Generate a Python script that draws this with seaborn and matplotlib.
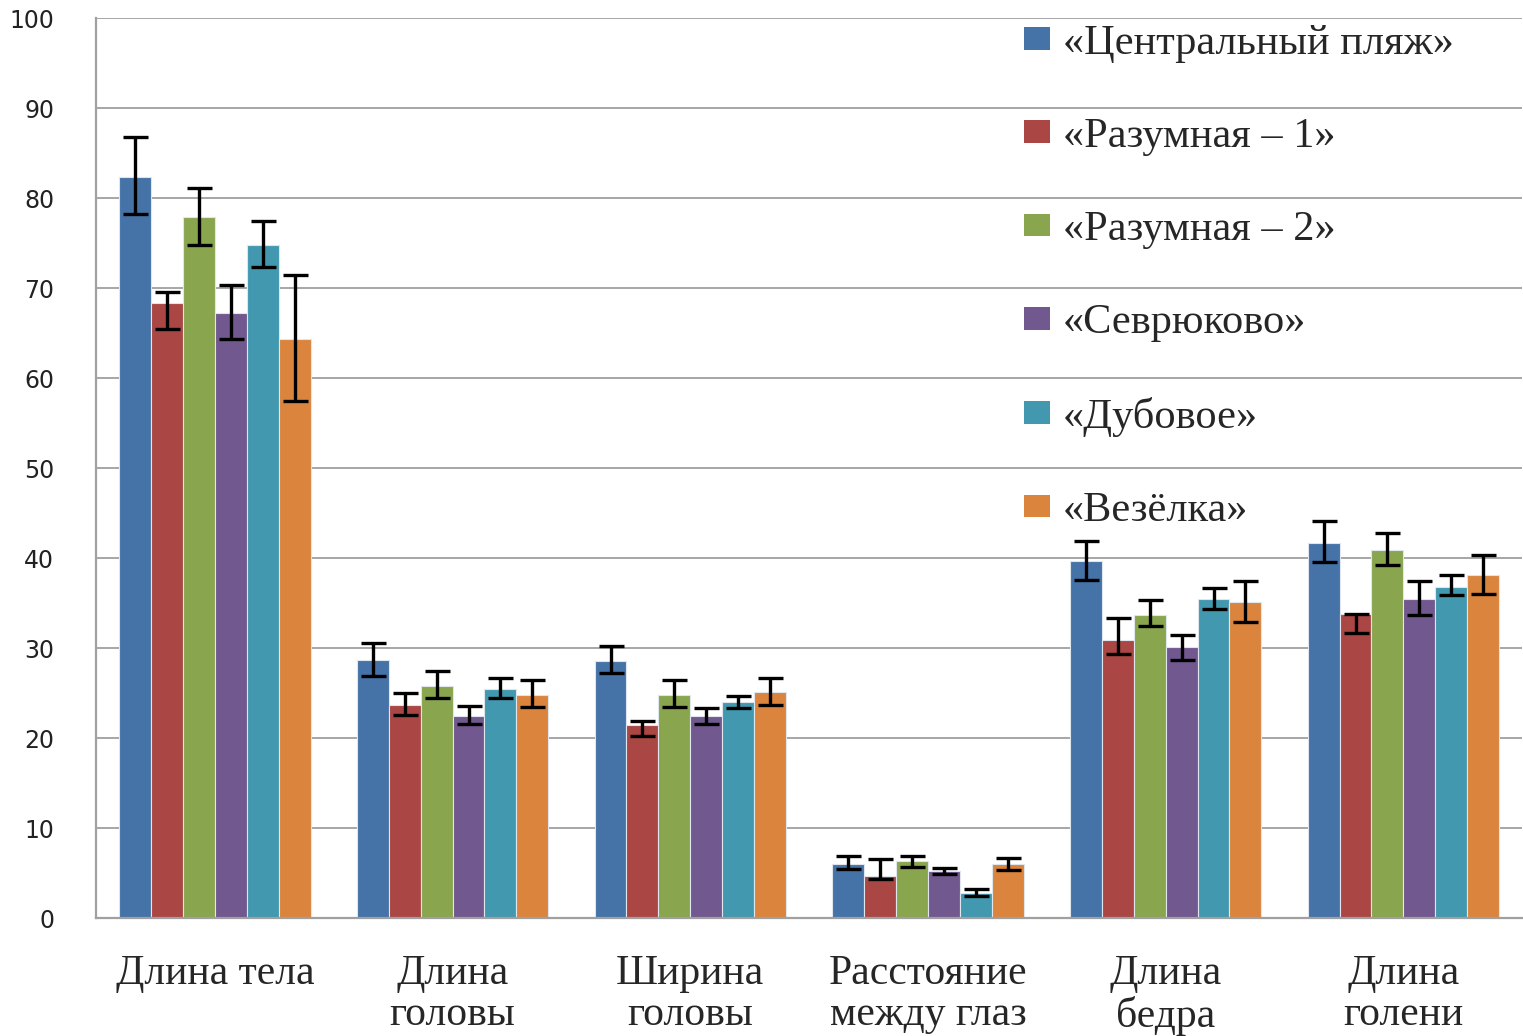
import matplotlib
matplotlib.use("Agg")
import matplotlib.pyplot as plt
from matplotlib.patches import Patch
import seaborn as sns
import pandas as pd
import numpy as np

categories = ["Длина тела", "Длина\nголовы", "Ширина\nголовы",
              "Расстояние\nмежду глаз", "Длина\nбедра", "Длина\nголени"]
series = ["«Центральный пляж»", "«Разумная – 1»", "«Разумная – 2»",
          "«Севрюково»", "«Дубовое»", "«Везёлка»"]

# bar values per series (across categories)
v_central = [82.3, 28.7, 28.6, 6.0, 39.7, 41.7]
v_raz1    = [68.3, 23.7, 21.4, 4.7, 30.9, 33.8]
v_raz2    = [77.9, 25.8, 24.8, 6.3, 33.7, 40.9]
v_sevr    = [67.2, 22.5, 22.4, 5.2, 30.1, 35.5]
v_dub     = [74.8, 25.5, 24.0, 2.8, 35.4, 36.8]
v_vez     = [64.3, 24.8, 25.1, 6.0, 35.1, 38.1]

# error magnitudes: lower / upper
lo_central = [4.1, 1.8, 1.4, 0.6, 2.1, 2.1]
hi_central = [4.5, 1.9, 1.6, 0.9, 2.2, 2.4]
lo_raz1    = [2.9, 1.1, 1.2, 0.4, 1.6, 2.1]
hi_raz1    = [1.3, 1.3, 0.5, 1.9, 2.4, 0.0]
lo_raz2    = [3.1, 1.3, 1.3, 0.6, 1.3, 1.7]
hi_raz2    = [3.2, 1.6, 1.6, 0.6, 1.6, 1.9]
lo_sevr    = [2.9, 0.9, 0.8, 0.35, 1.4, 1.8]
hi_sevr    = [3.1, 1.1, 0.9, 0.35, 1.4, 1.9]
lo_dub     = [2.5, 1.0, 0.7, 0.35, 1.1, 0.9]
hi_dub     = [2.7, 1.2, 0.7, 0.4, 1.3, 1.3]
lo_vez     = [6.9, 1.3, 1.4, 0.7, 2.2, 2.1]
hi_vez     = [7.1, 1.6, 1.6, 0.7, 2.3, 2.2]

colors = ["#4572A7", "#AA4643", "#89A54E", "#71588F", "#4198AF", "#DB843D"]

vals = [v_central, v_raz1, v_raz2, v_sevr, v_dub, v_vez]
los = [lo_central, lo_raz1, lo_raz2, lo_sevr, lo_dub, lo_vez]
his = [hi_central, hi_raz1, hi_raz2, hi_sevr, hi_dub, hi_vez]

rows = []
for s, vv in zip(series, vals):
    for c, v in zip(categories, vv):
        rows.append({"cat": c, "series": s, "value": v})
df = pd.DataFrame(rows)

sns.set_style("white")
fig = plt.figure(figsize=(15.23, 10.36), dpi=100)
ax = fig.add_axes([96/1523, 1 - 918/1036, 1 - 96/1523 - 0.0005, (918 - 18)/1036])

sns.barplot(data=df, x="cat", y="value", hue="series", order=categories,
            hue_order=series, palette=colors, errorbar=None, legend=False,
            width=0.805, saturation=1, ax=ax, edgecolor="#dfe6ee", linewidth=0.8,
            zorder=2)

for cont, lo, hi in zip(ax.containers, los, his):
    xs = [b.get_x() + b.get_width() / 2 for b in cont]
    hs = [b.get_height() for b in cont]
    ax.errorbar(xs, hs, yerr=[lo, hi], fmt="none", ecolor="black",
                elinewidth=2.4, capsize=9, capthick=2.4, zorder=3)

ax.set_ylim(0, 100)
ax.set_xlim(-0.5, len(categories) - 0.5)
ax.set_yticks(np.arange(0, 101, 10))
ax.yaxis.grid(True, color="#a6a6a6", linewidth=1.4, zorder=0)
ax.set_axisbelow(True)
for sp in ["top", "right"]:
    ax.spines[sp].set_visible(False)
for sp in ["left", "bottom"]:
    ax.spines[sp].set_color("#a0a0a0")
    ax.spines[sp].set_linewidth(1.6)

ax.set_xlabel("")
ax.set_ylabel("")
ax.tick_params(axis="y", length=0, pad=30, labelsize=17, labelcolor="#222222")
ax.tick_params(axis="x", length=0, pad=26)
for t in ax.get_yticklabels():
    t.set_family("DejaVu Sans")
ax.set_xticks(range(len(categories)))
ax.set_xticklabels(categories, fontsize=30, family="Liberation Serif",
                   linespacing=1.1, va="top")

handles = [Patch(facecolor=c, edgecolor="none") for c in colors]
leg = ax.legend(handles, series, loc="upper left", bbox_to_anchor=(0.651, 0.993),
                frameon=False, prop={"family": "Liberation Serif", "size": 30.5},
                handlelength=0.6, handleheight=0.45, handletextpad=0.3,
                labelspacing=1.29, borderpad=0, borderaxespad=0)

fig.savefig("out.png", dpi=100)
